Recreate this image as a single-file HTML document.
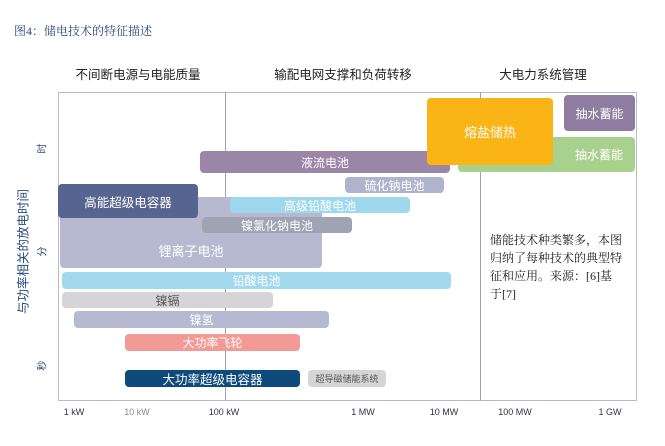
<!DOCTYPE html>
<html><head><meta charset="utf-8"><style>
body{margin:0;width:665px;height:446px;background:#fff;position:relative;overflow:hidden;font-family:"Liberation Sans","Noto Sans CJK SC",sans-serif}
.a{position:absolute}
.b{position:absolute;border-radius:4px;color:#fff;font-size:12px;display:flex;align-items:center;justify-content:center;white-space:nowrap}
.h{position:absolute;top:64px;font-size:12.5px;color:#222;transform:translateX(-50%);white-space:nowrap}
.t{position:absolute;top:407px;font-size:9px;color:#334;transform:translateX(-50%)}
.y{position:absolute;left:36px;font-size:10px;color:#2a4a7a;transform:rotate(-90deg)}
</style></head><body>
<div class="a" style="left:14px;top:22px;font-size:12px;color:#2a4a7a;font-family:'Liberation Serif','Noto Serif CJK SC',serif">图4：储电技术的特征描述</div>
<div class="h" style="left:138px">不间断电源与电能质量</div>
<div class="h" style="left:343px">输配电网支撑和负荷转移</div>
<div class="h" style="left:543px">大电力系统管理</div>
<div class="a" style="left:58px;top:92px;width:579px;height:309px;border:1px solid #b8bcc8;box-sizing:border-box"></div>
<div class="a" style="left:225px;top:92px;width:1px;height:309px;background:#9aa0bb"></div>
<div class="a" style="left:480px;top:92px;width:1px;height:309px;background:#9aa0bb"></div>
<div class="a" style="left:-58px;top:242px;width:160px;text-align:center;font-size:12.5px;color:#2a4a7a;transform:rotate(-90deg)">与功率相关的放电时间</div>
<div class="y" style="top:141px">时</div>
<div class="y" style="top:244px">分</div>
<div class="y" style="top:358px">秒</div>
<div class="t" style="left:74px">1 kW</div>
<div class="t" style="left:137px;color:#889">10 kW</div>
<div class="t" style="left:224px">100 kW</div>
<div class="t" style="left:363px">1 MW</div>
<div class="t" style="left:444px">10 MW</div>
<div class="t" style="left:515px">100 MW</div>
<div class="t" style="left:610px">1 GW</div>
<div class="b" style="left:564px;top:95px;width:71px;height:36px;background:#8e7da0">抽水蓄能</div>
<div class="b" style="left:458px;top:137px;width:177px;height:35px;background:#a9d18e;justify-content:flex-end;padding-right:12px;box-sizing:border-box">抽水蓄能</div>
<div class="b" style="left:200px;top:151px;width:250px;height:22px;background:#9c86a8">液流电池</div>
<div class="b" style="left:427px;top:98px;width:126px;height:67px;background:#fbb416;font-size:13px">熔盐储热</div>
<div class="b" style="left:345px;top:177px;width:99px;height:16px;background:#b0b3cc">硫化钠电池</div>
<div class="b" style="left:60px;top:197px;width:262px;height:71px;background:#b6b9d0;padding-top:36px;box-sizing:border-box;font-size:13px">锂离子电池</div>
<div class="b" style="left:230px;top:197px;width:180px;height:16px;background:#9ed8ec">高级铅酸电池</div>
<div class="b" style="left:58px;top:184px;width:140px;height:34px;background:#56648f;font-size:12.5px">高能超级电容器</div>
<div class="b" style="left:202px;top:217px;width:150px;height:16px;background:#9fa3b4">镍氯化钠电池</div>
<div class="b" style="left:62px;top:272px;width:389px;height:17px;background:#a2d9ee">铅酸电池</div>
<div class="b" style="left:62px;top:292px;width:211px;height:16px;background:#d5d5d8;color:#555">镍镉</div>
<div class="b" style="left:74px;top:311px;width:255px;height:17px;background:#b6b9d1">镍氢</div>
<div class="b" style="left:125px;top:334px;width:175px;height:17px;background:#f39a96">大功率飞轮</div>
<div class="b" style="left:125px;top:370px;width:175px;height:17px;background:#0e4a7c;font-size:12.5px">大功率超级电容器</div>
<div class="b" style="left:308px;top:370px;width:78px;height:17px;background:#d5d5d5;color:#555;font-size:9px">超导磁储能系统</div>
<div class="a" style="left:490px;top:231px;width:140px;font-size:12px;line-height:18px;color:#222;font-family:'Liberation Serif','Noto Serif CJK SC',serif">储能技术种类繁多，本图<br>归纳了每种技术的典型特<br>征和应用。来源：[6]基<br>于[7]</div>
</body></html>
